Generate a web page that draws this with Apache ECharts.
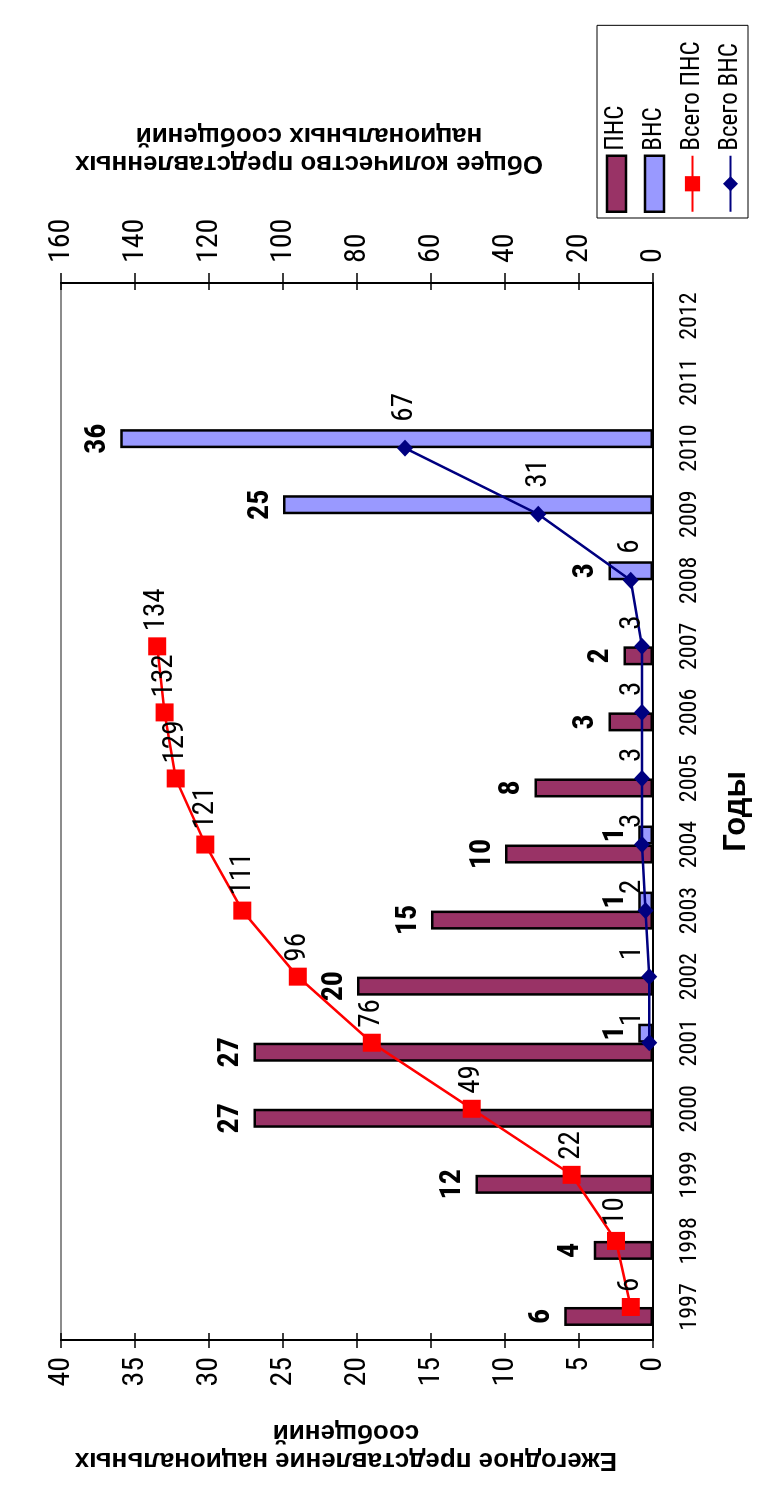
<!DOCTYPE html>
<html>
<head>
<meta charset="utf-8">
<script src="https://cdn.jsdelivr.net/npm/echarts@6/dist/echarts.min.js"></script>
<style>
html,body{margin:0;padding:0;background:#fff;overflow:hidden;width:773px;height:1495px;}
#frameA{position:absolute;left:8px;top:20px;width:761px;height:1490px;border:1px solid #555;box-sizing:border-box;}
#frameB{position:absolute;left:18px;top:11px;width:770px;height:1481px;border:1px solid #555;box-sizing:border-box;}
#chart{position:absolute;left:0;top:0;width:1495px;height:773px;transform-origin:0 0;transform:translate(0,1495px) rotate(-90deg);}
</style>
</head>
<body>
<div id="frameA"></div>
<div id="frameB"></div>
<div id="chart"></div>
<script>
// ---- data ----
var years = ['1997','1998','1999','2000','2001','2002','2003','2004','2005','2006','2007','2008','2009','2010','2011','2012'];
var pns = [6, 4, 12, 27, 27, 20, 15, 10, 8, 3, 2, null, null, null, null, null];
var vns = [null, null, null, null, 1, null, 1, 1, null, null, null, 3, 25, 36, null, null];
var totalPns = [6, 10, 22, 49, 76, 96, 111, 121, 129, 132, 134, null, null, null, null, null];
var totalVns = [null, null, null, null, 1, 1, 2, 3, 3, 3, 3, 6, 31, 67, null, null];
var leftTicks = {min: 0, max: 40, interval: 5};
var rightTicks = {min: 0, max: 160, interval: 20};

var NARROW = "'Roboto Condensed','Liberation Sans',sans-serif";
var BOLD = "'Liberation Sans',Arial,sans-serif";

var chart = echarts.init(document.getElementById('chart'));

// plot geometry (keeps low line labels inside the plot area, as Excel does)
var gridTop = 61, gridBottom = 120, H = 773;
var plotH = H - gridTop - gridBottom;
function vnsLabelItems(arr) {
  return arr.map(function (v) {
    if (v == null) return null;
    var dy = v / rightTicks.max * plotH;
    var off = Math.min(0, dy - 20);
    return {value: v, label: {offset: [off < 0 ? -10 : 0, off]}};
  });
}

var option = {
  animation: false,
  backgroundColor: '#fff',
  grid: {left: 155, right: 283, top: gridTop, bottom: gridBottom, show: true, borderColor: '#8c8c8c', borderWidth: 2, backgroundColor: 'transparent'},
  legend: {
    orient: 'vertical', left: 1277, top: 597,
    padding: [7, 16, 5, 5], itemGap: 13, itemWidth: 56, itemHeight: 19,
    borderColor: '#000', borderWidth: 1, backgroundColor: '#fff',
    textStyle: {fontFamily: NARROW, fontSize: 25, color: '#000'},
    data: [
      {name: 'ПНС', icon: 'rect', itemStyle: {color: '#993366', borderColor: '#000', borderWidth: 2.5}},
      {name: 'ВНС', icon: 'rect', itemStyle: {color: '#9999FF', borderColor: '#000', borderWidth: 2.5}},
      {name: 'Всего ПНС'},
      {name: 'Всего ВНС'}
    ]
  },
  xAxis: [
    {
      type: 'category', data: years, position: 'bottom',
      name: 'Годы', nameLocation: 'middle', nameGap: 68,
      nameTextStyle: {fontFamily: BOLD, fontWeight: 'bold', fontSize: 31, color: '#000'},
      axisLine: {lineStyle: {color: '#000', width: 2}},
      axisTick: {inside: true, length: 9, lineStyle: {color: '#000', width: 1.5}},
      axisLabel: {fontFamily: NARROW, fontSize: 24, color: '#000', margin: 25, interval: 0}
    },
    {
      type: 'category', data: years, position: 'bottom',
      axisLine: {show: false},
      axisTick: {inside: false, length: 5, lineStyle: {color: '#000', width: 1.5}},
      axisLabel: {show: false}
    }
  ],
  yAxis: [
    {
      type: 'value', position: 'left', min: leftTicks.min, max: leftTicks.max, interval: leftTicks.interval,
      name: 'Ежегодное представление национальных\nсообщений', nameLocation: 'middle', nameGap: 78,
      nameTextStyle: {fontFamily: BOLD, fontWeight: 'bold', fontSize: 26, lineHeight: 28, color: '#000', align: 'center', padding: [0, 0, 0, 22]},
      axisLine: {show: true, lineStyle: {color: '#000', width: 2}},
      axisTick: {show: true, inside: false, length: 8, lineStyle: {color: '#000', width: 1.5}},
      axisLabel: {fontFamily: NARROW, fontSize: 30, color: '#000', margin: 17},
      splitLine: {show: false}
    },
    {
      type: 'value', position: 'right', min: rightTicks.min, max: rightTicks.max, interval: rightTicks.interval,
      name: 'Общее количество представленных\nнациональных сообщений', nameLocation: 'middle', nameGap: 106,
      nameTextStyle: {fontFamily: BOLD, fontWeight: 'bold', fontSize: 26, lineHeight: 28, color: '#000', align: 'center', padding: [0, 0, 0, 96]},
      axisLine: {show: true, lineStyle: {color: '#000', width: 2}},
      axisTick: {show: true, inside: false, length: 10, lineStyle: {color: '#000', width: 1.5}},
      axisLabel: {fontFamily: NARROW, fontSize: 30, color: '#000', margin: 20},
      splitLine: {show: false}
    },
    {
      type: 'value', position: 'left', min: leftTicks.min, max: leftTicks.max, interval: leftTicks.interval,
      axisLine: {show: false}, axisLabel: {show: false}, splitLine: {show: false},
      axisTick: {show: true, inside: true, length: 7, lineStyle: {color: '#000', width: 1.5}}
    },
    {
      type: 'value', position: 'right', min: rightTicks.min, max: rightTicks.max, interval: rightTicks.interval,
      axisLine: {show: false}, axisLabel: {show: false}, splitLine: {show: false},
      axisTick: {show: true, inside: true, length: 7, lineStyle: {color: '#000', width: 1.5}}
    }
  ],
  series: [
    {
      name: 'ПНС', type: 'bar', data: pns, yAxisIndex: 0, barWidth: 19, barGap: '0%',
      itemStyle: {color: '#993366', borderColor: '#000', borderWidth: 2.5},
      label: {show: true, position: 'top', distance: 8, fontFamily: NARROW, fontWeight: 'bold', fontSize: 30, color: '#000'}
    },
    {
      name: 'ВНС', type: 'bar', data: vns, yAxisIndex: 0, barWidth: 19, barGap: '0%',
      itemStyle: {color: '#9999FF', borderColor: '#000', borderWidth: 2.5},
      label: {show: true, position: 'top', distance: 8, fontFamily: NARROW, fontWeight: 'bold', fontSize: 30, color: '#000'}
    },
    {
      name: 'Всего ПНС', type: 'line', data: totalPns, yAxisIndex: 1,
      symbol: 'rect', symbolSize: 18, showAllSymbol: true,
      lineStyle: {color: '#FF0000', width: 2.5}, itemStyle: {color: '#FF0000'},
      label: {show: true, position: 'right', distance: 6, fontFamily: NARROW, fontSize: 29, color: '#000'}
    },
    {
      name: 'Всего ВНС', type: 'line', data: vnsLabelItems(totalVns), yAxisIndex: 1,
      symbol: 'diamond', symbolSize: [17, 16], showAllSymbol: true,
      lineStyle: {color: '#000080', width: 2.5}, itemStyle: {color: '#000080'},
      label: {show: true, position: 'right', distance: 18, fontFamily: NARROW, fontSize: 29, color: '#000'}
    }
  ]
};
chart.setOption(option);
</script>
</body>
</html>
